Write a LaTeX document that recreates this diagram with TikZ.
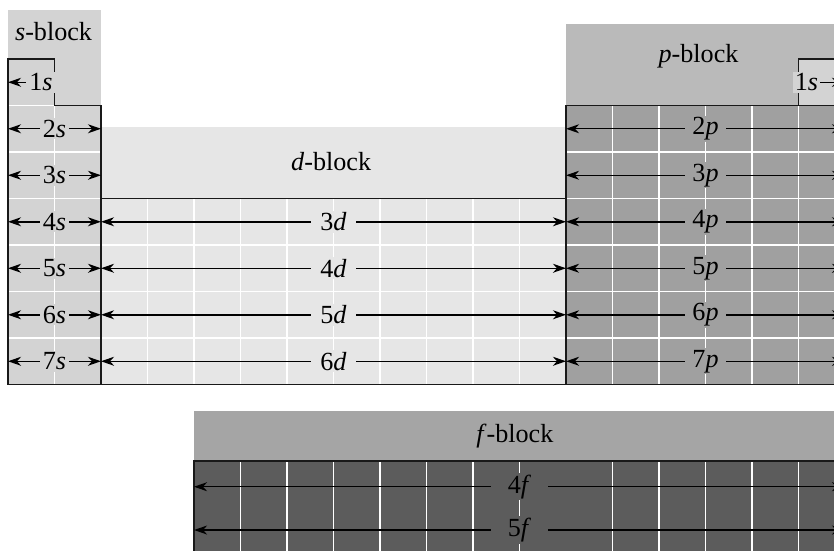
\documentclass[tikz,border=0pt]{standalone}
\usepackage{fontspec}
\setmainfont{Liberation Serif}
\usepackage{tikz}
\usetikzlibrary{arrows.meta}
\definecolor{sgray}{RGB}{211,211,211}
\definecolor{dgray}{RGB}{230,230,230}
\definecolor{phead}{RGB}{186,186,186}
\definecolor{pgray}{RGB}{160,160,160}
\definecolor{fhead}{RGB}{165,165,165}
\definecolor{fgray}{RGB}{92,92,92}

\begin{document}
\begin{tikzpicture}[every node/.style={font=\fontsize{16}{19}\selectfont},
            >={Stealth[length=8pt,width=5.5pt,inset=2.5pt]},
            cellline/.style={white,line width=0.8pt},
            border/.style={draw=black!90,line width=1pt},
            orb/.style={<->,line width=0.9pt},
            slab/.style={fill=sgray,inner xsep=2pt,inner ysep=1pt},
            dlab/.style={fill=dgray,inner xsep=6pt,inner ysep=1pt},
            plab/.style={fill=pgray,inner xsep=4.8pt,inner ysep=1pt},
            flab/.style={fill=fgray,inner xsep=10.5pt,inner ysep=1pt}
            ]
            \useasboundingbox (-0.172,1.269) rectangle (17.763,-10.559);
            \clip (-0.172,1.269) rectangle (17.763,-10.559);
            % blocks
            \fill[sgray] (0,1.054) rectangle (2,-7);
            \fill[dgray] (2,-1.462) rectangle (12,-7);
            \fill[phead] (12,0.753) rectangle (18,-1);
            \fill[pgray] (12,-1) rectangle (18,-7);
            \fill[sgray] (17,0) rectangle (18,-1);
            \fill[fhead] (4,-7.57) rectangle (18,-8.639);
            \fill[fgray] (4,-8.639) rectangle (18,-10.8);
            % cells
            \draw[cellline] (0,-7) grid (2,-1);
            \draw[cellline] (2,-7) grid (12,-3);
            \draw[cellline] (12,-7) grid (18,-1);
            \foreach \x in {5,6,7,8,9,10,11,13,14,15,16,17}
              \draw[cellline] (\x,-8.639) -- (\x,-10.8);
            \draw[border] (0,-7) -- (0,0) -- (1,0) -- (1,-1) -- (2,-1) -- (2,-7) -- cycle;
            \draw[border] (2,-3) -- (12,-3) (2,-7) -- (12,-7);
            \draw[border] (12,-1) rectangle (18,-7);
            \draw[border] (17,-1) -- (17,0) -- (18,0);
            \draw[border] (4,-10.8) -- (4,-8.639) -- (18,-8.639);
            % block names
            \node (sblock) at (0.98,0.6) {\textit{s}-block};
            \node (dblock) at (6.95,-2.2) {\textit{d}-block};
            \node (pblock) at (14.85,0.05) {\textit{p}-block};
            \node (fblock) at (10.9,-8.1) {\textit{f}-block};
            % s
            \node[slab] (l1s) at (0.71,-0.5) {1\textit{s}};
            \draw[->,line width=0.9pt] (l1s) -- (0,-0.5);
            \node[slab,inner xsep=1pt] (l1sp) at (17.17,-0.5) {1\textit{s}};
            \draw[->,line width=0.9pt] (l1sp) -- (18,-0.5);
            \draw[orb] (0,-1.5) -- node[slab] (l2s) {2\textit{s}} (2,-1.5);
            \draw[orb] (0,-2.5) -- node[slab] (l3s) {3\textit{s}} (2,-2.5);
            \draw[orb] (0,-3.5) -- node[slab] (l4s) {4\textit{s}} (2,-3.5);
            \draw[orb] (0,-4.5) -- node[slab] (l5s) {5\textit{s}} (2,-4.5);
            \draw[orb] (0,-5.5) -- node[slab] (l6s) {6\textit{s}} (2,-5.5);
            \draw[orb] (0,-6.5) -- node[slab] (l7s) {7\textit{s}} (2,-6.5);
            % d
            \draw[orb] (2,-3.5) -- node[dlab] (l3d) {3\textit{d}} (12,-3.5);
            \draw[orb] (2,-4.5) -- node[dlab] (l4d) {4\textit{d}} (12,-4.5);
            \draw[orb] (2,-5.5) -- node[dlab] (l5d) {5\textit{d}} (12,-5.5);
            \draw[orb] (2,-6.5) -- node[dlab] (l6d) {6\textit{d}} (12,-6.5);
            % p
            \draw[orb] (12,-1.5) -- node[plab] (l2p) {2\textit{p}} (18,-1.5);
            \draw[orb] (12,-2.5) -- node[plab] (l3p) {3\textit{p}} (18,-2.5);
            \draw[orb] (12,-3.5) -- node[plab] (l4p) {4\textit{p}} (18,-3.5);
            \draw[orb] (12,-4.5) -- node[plab] (l5p) {5\textit{p}} (18,-4.5);
            \draw[orb] (12,-5.5) -- node[plab] (l6p) {6\textit{p}} (18,-5.5);
            \draw[orb] (12,-6.5) -- node[plab] (l7p) {7\textit{p}} (18,-6.5);
            % f
            \draw[orb] (4,-9.198) -- node[flab] (l4f) {4\textit{f}} (18,-9.198);
            \draw[orb] (4,-10.129) -- node[flab] (l5f) {5\textit{f}} (18,-10.129);
          \end{tikzpicture}
\end{document}
